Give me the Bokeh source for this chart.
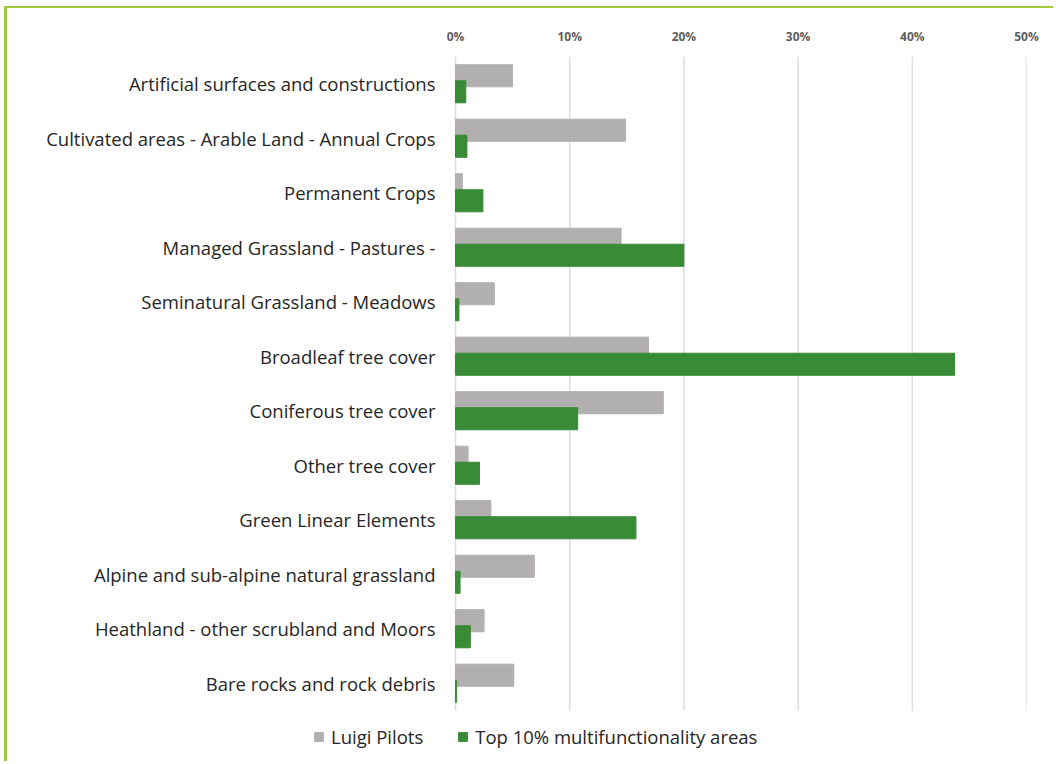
from bokeh.plotting import figure
from bokeh.models import (ColumnDataSource, LinearAxis, Range1d,
                          NumeralTickFormatter, FixedTicker, Legend, LegendItem)
from bokeh.core.properties import value
from bokeh.transform import dodge
from bokeh.embed import file_html
from bokeh.resources import INLINE

categories = [
    "Artificial surfaces and constructions",
    "Cultivated areas - Arable Land - Annual Crops",
    "Permanent Crops",
    "Managed Grassland - Pastures -",
    "Seminatural Grassland - Meadows",
    "Broadleaf tree cover",
    "Coniferous tree cover",
    "Other tree cover",
    "Green Linear Elements",
    "Alpine and sub-alpine natural grassland",
    "Heathland - other scrubland and Moors",
    "Bare rocks and rock debris",
]
luigi_pilots = [0.050, 0.149, 0.006, 0.145, 0.034, 0.169, 0.182, 0.011, 0.031, 0.069, 0.025, 0.051]
top10 = [0.009, 0.010, 0.024, 0.200, 0.003, 0.437, 0.107, 0.021, 0.158, 0.004, 0.013, 0.001]
x_ticks = [0, 0.1, 0.2, 0.3, 0.4, 0.5]
series_names = ["Luigi Pilots", "Top 10% multifunctionality areas"]

GRAY = "#b1afaf"
GREEN = "#3a8b37"
FONT = "Open Sans"

n = len(categories)
ypos = [n - 1 - i for i in range(n)]          # first category on top
src = ColumnDataSource(dict(cat=categories, y=ypos, lp=luigi_pilots, t10=top10))

# layout geometry (pixels)
W, H = 1049, 755
LEFT_PAD, RIGHT_PAD, TOP_PAD = 448, 30, 48     # zero line 448 px into the canvas
ROW_PX = 54.5
frame_w = W - RIGHT_PAD
frame_h = H - TOP_PAD
x_end = x_ticks[-1]
x_start = -x_end * LEFT_PAD / (frame_w - LEFT_PAD)
legend_units = (frame_h - n * ROW_PX) / ROW_PX

p = figure(width=W, height=H, output_backend="svg", toolbar_location=None,
           x_range=Range1d(x_start, x_end), y_range=Range1d(-0.5 - legend_units, n - 0.5),
           x_axis_location=None, y_axis_location=None,
           min_border_left=0, min_border_right=RIGHT_PAD, min_border_top=TOP_PAD,
           min_border_bottom=0)
p.styles = {"border-left": "3px solid #9dc93b", "border-top": "2px solid #9dc93b",
            "margin-left": "4px", "margin-top": "6px"}
p.outline_line_color = None
p.grid.visible = False
p.background_fill_color = "white"
p.border_fill_color = "white"

# vertical gridlines at the tick values, spanning the category rows
p.segment(x0=x_ticks, x1=x_ticks, y0=[-0.5] * len(x_ticks), y1=[n - 0.5] * len(x_ticks),
          line_color="#dcdcdc", line_width=1.5)

r1 = p.hbar(y=dodge("y", 0.147), right="lp", left=0, height=0.405,
            source=src, fill_color=GRAY, line_color=GRAY)
r2 = p.hbar(y=dodge("y", -0.147), right="t10", left=0, height=0.405,
            source=src, fill_color=GREEN, line_color=GREEN)

# category labels
p.text(x=0, y="y", text="cat", source=src, text_align="right", text_baseline="middle",
       x_offset=-20, text_font=value(FONT), text_font_size="18.5px", text_color="#262626")

top_axis = LinearAxis(ticker=FixedTicker(ticks=x_ticks),
                      formatter=NumeralTickFormatter(format="0%"))
top_axis.axis_line_color = None
top_axis.major_tick_line_color = None
top_axis.minor_tick_line_color = None
top_axis.major_label_text_font = FONT
top_axis.major_label_text_font_style = "bold"
top_axis.major_label_text_font_size = "12px"
top_axis.major_label_text_color = "#5f5f5f"
top_axis.major_label_standoff = 6
p.add_layout(top_axis, "above")

legend = Legend(items=[LegendItem(label=series_names[0], renderers=[r1]),
                       LegendItem(label=series_names[1], renderers=[r2])],
                orientation="horizontal", location=(306, 14),
                label_text_font=FONT, label_text_font_size="18.5px",
                label_text_color="#262626", glyph_width=11, glyph_height=11,
                label_standoff=7, spacing=34, padding=0, margin=0,
                border_line_color=None, background_fill_alpha=0)
p.add_layout(legend, "center")

open("out.html", "w").write(file_html(p, INLINE))
